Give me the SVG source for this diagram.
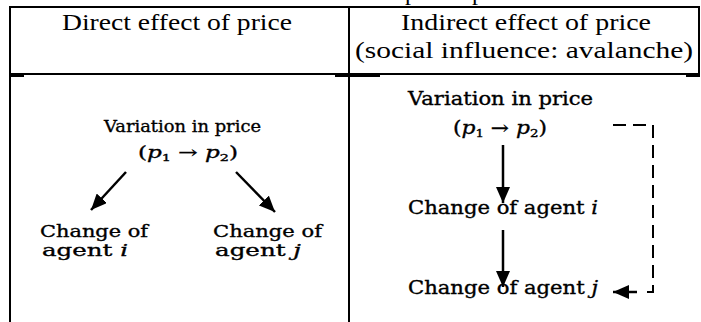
<svg xmlns="http://www.w3.org/2000/svg" width="701" height="322" viewBox="0 0 701 322">
<style>
.rule{stroke:#000;stroke-width:2;fill:none}
.hd{font-family:"Liberation Serif",serif;font-size:24px;fill:#000}
.bd{font-family:"DejaVu Serif",serif;fill:#000;stroke:#000;stroke-width:0.35}
.it{font-style:italic}
.arr{stroke:#000;stroke-width:2.5;fill:none}
.dash{stroke:#000;stroke-width:2;fill:none;stroke-dasharray:13 7}
</style>
<defs>
<marker id="ah" markerUnits="userSpaceOnUse" viewBox="0 0 16 14" markerWidth="16" markerHeight="14" refX="16" refY="7" orient="auto"><path d="M0,0 L16,7 L0,14 Z" fill="#000"/></marker>
</defs>
<rect width="701" height="322" fill="#fff"/>
<g id="caption">
<text class="hd" x="405" y="-0.5">p</text>
<text class="hd" x="472" y="-0.5">p</text>
</g>
<g id="table">
<line class="rule" x1="10" y1="7" x2="699" y2="7"/>
<line class="rule" x1="10" y1="74" x2="699" y2="74"/>
<line class="rule" x1="10" y1="76" x2="24" y2="76"/>
<line class="rule" x1="335" y1="76" x2="380" y2="76"/>
<line class="rule" x1="686" y1="76" x2="699" y2="76"/>
<line class="rule" x1="10" y1="6" x2="10" y2="322"/>
<line class="rule" x1="349" y1="6" x2="349" y2="322"/>
<line class="rule" x1="699" y1="6" x2="699" y2="77"/>
</g>
<g id="header-direct">
<text class="hd" x="177" y="30" text-anchor="middle" textLength="230" lengthAdjust="spacingAndGlyphs">Direct effect of price</text>
</g>
<g id="header-indirect">
<text class="hd" x="526" y="30" text-anchor="middle" textLength="250" lengthAdjust="spacingAndGlyphs">Indirect effect of price</text>
<text class="hd" x="524" y="58" text-anchor="middle" textLength="338" lengthAdjust="spacingAndGlyphs">(social influence: avalanche)</text>
</g>
<g id="left-variation">
<text class="bd" x="104" y="132" font-size="17" textLength="157" lengthAdjust="spacingAndGlyphs">Variation in price</text>
<text class="bd" x="138" y="158" font-size="16" textLength="100" lengthAdjust="spacingAndGlyphs">(<tspan class="it">p</tspan><tspan font-size="10" dy="3">1</tspan><tspan dy="-3"> → </tspan><tspan class="it">p</tspan><tspan font-size="10" dy="3">2</tspan><tspan dy="-3">)</tspan></text>
</g>
<g id="left-agent-i">
<text class="bd" x="40" y="237" font-size="17" textLength="108" lengthAdjust="spacingAndGlyphs">Change of</text>
<text class="bd" x="42" y="256" font-size="17" textLength="86" lengthAdjust="spacingAndGlyphs">agent <tspan class="it">i</tspan></text>
</g>
<g id="left-agent-j">
<text class="bd" x="213" y="237" font-size="17" textLength="109" lengthAdjust="spacingAndGlyphs">Change of</text>
<text class="bd" x="215" y="256" font-size="17" textLength="86" lengthAdjust="spacingAndGlyphs">agent <tspan class="it">j</tspan></text>
</g>
<g id="right-variation">
<text class="bd" x="408" y="105" font-size="18" textLength="185" lengthAdjust="spacingAndGlyphs">Variation in price</text>
<text class="bd" x="453" y="134" font-size="18" textLength="94" lengthAdjust="spacingAndGlyphs">(<tspan class="it">p</tspan><tspan font-size="11" dy="3">1</tspan><tspan dy="-3"> → </tspan><tspan class="it">p</tspan><tspan font-size="11" dy="3">2</tspan><tspan dy="-3">)</tspan></text>
</g>
<g id="right-agent-i">
<text class="bd" x="408" y="214" font-size="18" textLength="190" lengthAdjust="spacingAndGlyphs">Change of agent <tspan class="it">i</tspan></text>
</g>
<g id="right-agent-j">
<text class="bd" x="408" y="294" font-size="18" textLength="190" lengthAdjust="spacingAndGlyphs">Change of agent <tspan class="it">j</tspan></text>
</g>
<g id="connectors">
<line class="arr" x1="126" y1="172" x2="91" y2="210" marker-end="url(#ah)"/>
<line class="arr" x1="236" y1="172" x2="275" y2="212" marker-end="url(#ah)"/>
<line class="arr" x1="503" y1="145" x2="503" y2="203" marker-end="url(#ah)"/>
<line class="arr" x1="503" y1="230" x2="503" y2="287" marker-end="url(#ah)"/>
<path class="dash" d="M613,125 H653 V292 H645"/>
<line class="arr" x1="637" y1="292" x2="613" y2="292" marker-end="url(#ah)"/>
</g>
</svg>
